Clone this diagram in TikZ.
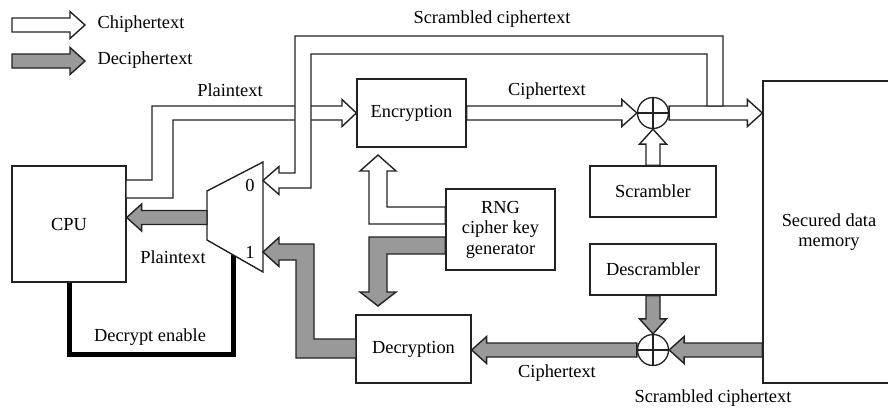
\documentclass[tikz,border=0pt]{standalone}
\usepackage{fontspec}
\setmainfont{Liberation Serif}
\usetikzlibrary{calc}
\definecolor{decgray}{RGB}{153,153,153}
\definecolor{pipeline}{RGB}{34,34,34}
% straight fat arrow from #2 (tail) to #3 (tip)
\newcommand{\fatarrow}[3]{%
  \path[#1] let \p1=(#2), \p2=(#3), \n1={atan2(\y2-\y1,\x2-\x1)}, \n2={veclen(\x2-\x1,\y2-\y1)} in
    [shift={(\p1)}, rotate=\n1] (0pt,7pt) -- (\n2-15pt,7pt) -- (\n2-15pt,13.5pt) -- (\n2,0pt)
    -- (\n2-15pt,-13.5pt) -- (\n2-15pt,-7pt) -- (0pt,-7pt) -- cycle;}
\begin{document}
\begin{tikzpicture}[x=1pt,y=-1pt,font=\fontsize{18.4}{20.5}\selectfont]
  \tikzstyle{box}=[draw=pipeline,line width=1.3pt,align=center,inner sep=0pt]
  \tikzstyle{xor}=[draw=pipeline,line width=1.3pt,circle,inner sep=0pt,minimum size=31pt,fill=white]
  \tikzstyle{pipe}=[draw=pipeline,line width=1.4pt,fill=white,line join=miter]
  \tikzstyle{gpipe}=[pipe,fill=decgray]
  \tikzstyle{enable}=[draw=black,line width=5pt,line join=miter]
  \useasboundingbox (0,0) rectangle (888,408);
  \clip (0,0) rectangle (888,408);
  % legend
  \coordinate (legw) at (12,25);
  \coordinate (legwe) at (85,25);
  \coordinate (legg) at (12,61);
  \coordinate (legge) at (85,61);
  \fatarrow{pipe}{legw}{legwe}
  \fatarrow{gpipe}{legg}{legge}
  \node[anchor=west] (legcipher) at (94,24) {Chiphertext};
  \node[anchor=west] (legdecipher) at (94,60) {Deciphertext};
  % blocks
  \node[box,minimum width=114pt,minimum height=116pt] (cpu) at (69,224) {CPU};
  \node[box,minimum width=109pt,minimum height=68pt] (enc) at (411.5,113) {Encryption};
  \node[box,minimum width=115pt,minimum height=68pt] (dec) at (413.5,349) {Decryption};
  \node[box,minimum width=109pt,minimum height=81pt] (rng) at (500.5,229.5) {RNG\\cipher key\\generator};
  \node[box,minimum width=126pt,minimum height=51pt] (scr) at (653,191.5) {Scrambler};
  \node[box,minimum width=126pt,minimum height=51pt] (dscr) at (653,269.5) {Descrambler};
  \node[box,minimum width=132pt,minimum height=302pt] (mem) at (829,232) {Secured data\\memory};
  \node[xor] (x1) at (653,113) {};
  \node[xor] (x2) at (653,350) {};
  \draw[line width=1.3pt,draw=pipeline] (x1.north) -- (x1.south) (x1.west) -- (x1.east);
  \draw[line width=1.3pt,draw=pipeline] (x2.north) -- (x2.south) (x2.west) -- (x2.east);
  % multiplexer
  \coordinate (mux0) at (263,180.5);
  \coordinate (mux1) at (263,252);
  \coordinate (muxout) at (207,217.5);
  \coordinate (muxsel) at (233,255);
  \path[enable] (cpu.south) -- ++(0,72) -| (muxsel);
  \path[pipe] (207,191) -- (263,162) -- (263,272) -- (207,240) -- cycle;
  \node (sel0) at (250,185) {0};
  \node (sel1) at (250,252) {1};
  % plaintext to encryption
  \path[pipe] (126,180) -- (152,180) -- (152,106) -- (342,106) -- (342,99.5) -- (enc.west)
    -- (342,126.5) -- (342,120) -- (173,120) -- (173,198) -- (126,198) -- cycle;
  % cipher path
  \fatarrow{pipe}{enc.east}{x1.west}
  \fatarrow{pipe}{scr.north}{x1.south}
  \fatarrow{pipe}{x1.east}{mem.west |- x1}
  % scrambled ciphertext back to mux
  \path[pipe] (707,106) -- (707,54) -- (311,54) -- (311,188) -- (279,188) -- (279,194.5) -- (mux0)
    -- (279,166.5) -- (279,173) -- (295,173) -- (295,36) -- (723,36) -- (723,106) -- cycle;
  % key generator
  \coordinate (keyup) at (378,155);
  \coordinate (keydown) at (378,306);
  \path[pipe] (rng.west |- 0,207) -- (387,207) -- (387,171) -- (396,171) -- (keyup) -- (360,171)
    -- (369,171) -- (369,224) -- (rng.west |- 0,224) -- cycle;
  \path[gpipe] (rng.west |- 0,237) -- (369,237) -- (369,292) -- (360,292) -- (keydown) -- (396,292)
    -- (387,292) -- (387,254) -- (rng.west |- 0,254) -- cycle;
  % decipher path
  \fatarrow{gpipe}{dscr.south}{x2.north}
  \fatarrow{gpipe}{mem.west |- x2}{x2.east}
  \fatarrow{gpipe}{x2.west}{dec.east |- x2}
  \path[gpipe] (356,339) -- (314,339) -- (314,244) -- (279,244) -- (279,237.5) -- (mux1)
    -- (279,266.5) -- (279,260) -- (296,260) -- (296,358) -- (356,358) -- cycle;
  \fatarrow{gpipe}{muxout}{cpu.east |- muxout}
  % labels
  \node (lblplain) at (230,90) {Plaintext};
  \node (lblscram) at (492,19) {Scrambled ciphertext};
  \node (lblcipher) at (547,91) {Ciphertext};
  \node (lblplainb) at (173,257) {Plaintext};
  \node (lblenable) at (150,337) {Decrypt enable};
  \node (lblcipherb) at (557,373) {Ciphertext};
  \node (lblscramb) at (713,398) {Scrambled ciphertext};
\end{tikzpicture}
\end{document}
